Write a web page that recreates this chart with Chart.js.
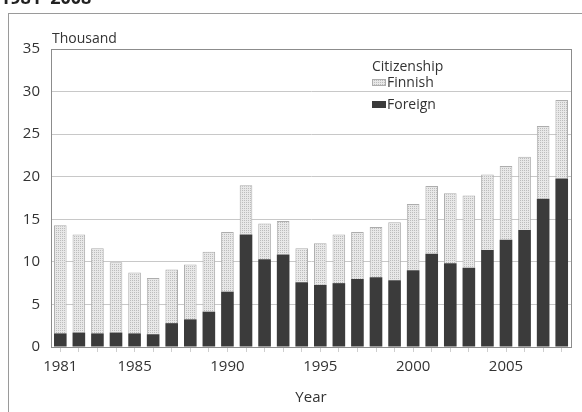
<!DOCTYPE html>
<html><head><meta charset="utf-8">
<script src="https://cdn.jsdelivr.net/npm/chart.js@4"></script>
<style>html,body{margin:0;padding:0;background:#fff}#wrap{width:582px;height:412px;position:relative}</style>
</head><body><div id="wrap"><canvas id="c" width="582" height="412"></canvas></div>
<script>
const years = ['1981','1982','1983','1984','1985','1986','1987','1988','1989','1990','1991','1992','1993','1994','1995','1996','1997','1998','1999','2000','2001','2002','2003','2004','2005','2006','2007','2008'];
const foreign = [1.6,1.7,1.6,1.7,1.6,1.5,2.8,3.25,4.15,6.5,13.2,10.3,10.85,7.6,7.3,7.5,8.0,8.2,7.85,9.0,10.95,9.85,9.3,11.4,12.6,13.75,17.4,19.8];
const finnish = [12.7,11.5,10.0,8.25,7.15,6.6,6.3,6.45,7.05,7.0,5.8,4.2,3.95,4.0,4.9,5.7,5.5,5.9,6.8,7.8,7.95,8.2,8.5,8.85,8.65,8.6,8.55,9.2];
const yTicks = [0,5,10,15,20,25,30,35];
const labeledYears = ['1981','1985','1990','1995','2000','2005'];

const FONT = '"Open Sans", "DejaVu Sans", sans-serif';

function dotPattern(){
  const p = document.createElement('canvas');
  p.width = 2; p.height = 2;
  const g = p.getContext('2d');
  g.fillStyle = '#e8e8e8'; g.fillRect(0,0,2,2);
  g.fillStyle = '#bcbcbc'; g.fillRect(0,0,1,1);
  return document.getElementById('c').getContext('2d').createPattern(p,'repeat');
}
const finnishFill = dotPattern();

const decor = {
  id:'decor',
  beforeDraw(chart){
    const ctx = chart.ctx;
    ctx.save();
    ctx.fillStyle = '#fff';
    ctx.fillRect(0,0,chart.width,chart.height);
    ctx.restore();
  },
  afterDraw(chart){
    const ctx = chart.ctx, a = chart.chartArea;
    ctx.save();
    ctx.strokeStyle = '#9a9a9a'; ctx.lineWidth = 1;
    ctx.strokeRect(8.5, 13.5, 600, 500);
    ctx.strokeStyle = '#8c8c8c';
    ctx.strokeRect(Math.round(a.left)+0.5, Math.round(a.top)+0.5, Math.round(a.right-a.left), Math.round(a.bottom-a.top));
    ctx.fillStyle = '#222';
    ctx.font = 'bold 18px ' + FONT;
    ctx.textBaseline = 'alphabetic'; ctx.textAlign = 'left';
    ctx.fillText('1981\u20132008', 0, 4);
    ctx.fillStyle = '#333';
    ctx.font = '14px ' + FONT;
    ctx.fillText('Thousand', a.left + 1, 43);
    const lx = 372;
    ctx.fillText('Citizenship', lx, 71);
    const ds = chart.data.datasets;
    const fin = ds[1], fo = ds[0];
    ctx.fillStyle = fin.backgroundColor;
    ctx.fillRect(lx, 79, 14, 7);
    ctx.strokeStyle = fin.borderColor; ctx.strokeRect(lx+0.5, 79.5, 13, 6);
    ctx.fillStyle = '#333';
    ctx.fillText(fin.label, lx + 15, 87);
    ctx.fillStyle = fo.backgroundColor;
    ctx.fillRect(lx, 101, 14, 7);
    ctx.fillStyle = '#333';
    ctx.fillText(fo.label, lx + 15, 109);
    ctx.restore();
  }
};

new Chart(document.getElementById('c'), {
  type:'bar',
  data:{
    labels: years,
    datasets:[
      {label:'Foreign', data: foreign, backgroundColor:'#3b3b3b', borderWidth:0, stack:'s'},
      {label:'Finnish', data: finnish, backgroundColor: finnishFill, borderColor:'#adadad', borderWidth:1, stack:'s'}
    ]
  },
  options:{
    responsive:false, animation:false,
    layout:{padding:{top:49,right:11,left:0,bottom:0}},
    categoryPercentage:1, barPercentage:0.68,
    plugins:{legend:{display:false}, tooltip:{enabled:false}, title:{display:false}},
    scales:{
      x:{
        stacked:true,
        afterFit(s){ s.height = 65; },
        grid:{offset:false, drawOnChartArea:false, drawTicks:true, tickLength:5, color:'#cfcfcf'},
        border:{display:true, color:'#8c8c8c'},
        ticks:{autoSkip:false, maxRotation:0, padding:6, color:'#333', font:{family:FONT, size:15},
          callback(v, i){ const y = years[i]; return labeledYears.includes(y) ? y : ''; }},
        title:{display:true, text:'Year', color:'#333', font:{family:FONT, size:15}, padding:{top:0,bottom:5}}
      },
      y:{
        stacked:true, min:0, max:35,
        afterFit(s){ s.width = 51; },
        afterBuildTicks(s){ s.ticks = yTicks.map(v=>({value:v})); },
        grid:{drawTicks:false, color:'#c8c8c8'},
        border:{display:true, color:'#8c8c8c'},
        ticks:{padding:11, color:'#333', font:{family:FONT, size:15}}
      }
    }
  },
  plugins:[decor]
});
</script></body></html>
